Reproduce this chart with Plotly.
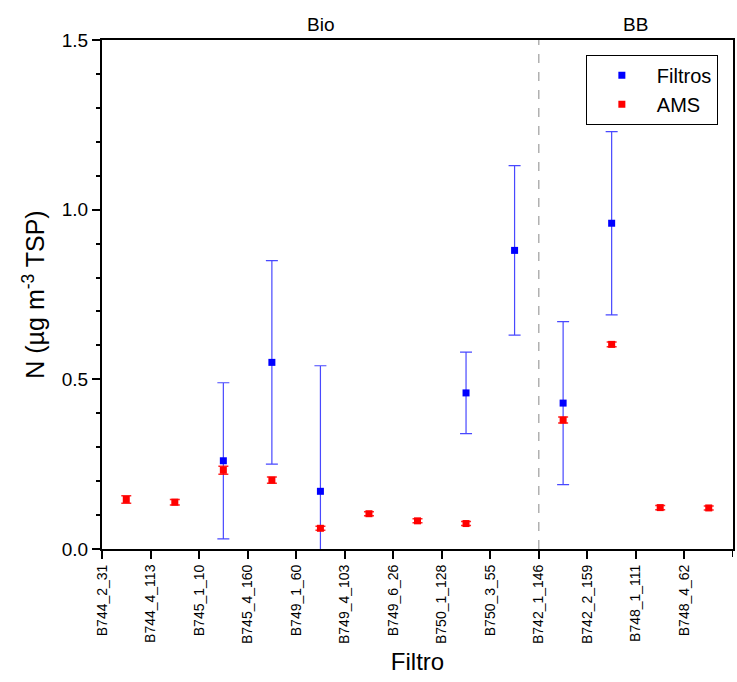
import plotly.graph_objects as go

labels = ["B744_2_31", "B744_4_113", "B745_1_10", "B745_4_160", "B749_1_60",
          "B749_4_103", "B749_6_26", "B750_1_128", "B750_3_55", "B742_1_146",
          "B742_2_159", "B748_1_111", "B748_4_62"]

filtros_x = [2.5, 3.5, 4.5, 7.5, 8.5, 9.5, 10.5]
filtros_y = [0.26, 0.55, 0.17, 0.46, 0.88, 0.43, 0.96]
filtros_err = [0.23, 0.30, 0.37, 0.12, 0.25, 0.24, 0.27]

ams_x = [0.5, 1.5, 2.5, 3.5, 4.5, 5.5, 6.5, 7.5, 9.5, 10.5, 11.5, 12.5]
ams_y = [0.146, 0.138, 0.232, 0.203, 0.061, 0.104, 0.083, 0.075, 0.380, 0.603, 0.122, 0.121]
ams_err = [0.011, 0.008, 0.012, 0.009, 0.006, 0.006, 0.006, 0.006, 0.009, 0.007, 0.006, 0.006]

FONT = "Arial, Liberation Sans, sans-serif"

fig = go.Figure()
fig.add_trace(go.Scatter(
    x=filtros_x, y=filtros_y, mode="markers", name="Filtros",
    marker=dict(symbol="square", size=7, color="#0000ff"),
    error_y=dict(type="data", array=filtros_err, visible=True,
                 color="rgba(40,40,255,0.85)", thickness=1.2, width=6),
))
fig.add_trace(go.Scatter(
    x=ams_x, y=ams_y, mode="markers", name="AMS",
    marker=dict(symbol="square", size=7, color="#ff0000"),
    error_y=dict(type="data", array=ams_err, visible=True,
                 color="rgba(255,0,0,0.85)", thickness=1.5, width=5),
))

fig.add_shape(type="line", x0=9, x1=9, y0=0, y1=1, xref="x", yref="paper",
              line=dict(color="#888888", width=1, dash="dash"))
# right-edge tick mark of the x axis
fig.add_shape(type="line", x0=13, x1=13, xref="x", yref="paper",
              ysizemode="pixel", yanchor=0, y0=0, y1=-8,
              line=dict(color="black", width=2))

fig.add_annotation(x=4.5, y=1.0, xref="x", yref="paper", yshift=3,
                   text="Bio", showarrow=False, yanchor="bottom",
                   font=dict(family=FONT, size=19, color="black"))
fig.add_annotation(x=11, y=1.0, xref="x", yref="paper", yshift=3,
                   text="BB", showarrow=False, yanchor="bottom",
                   font=dict(family=FONT, size=19, color="black"))

fig.update_layout(
    width=737, height=682,
    margin=dict(l=102, r=2, t=40, b=133),
    paper_bgcolor="white", plot_bgcolor="white",
    font=dict(family=FONT, color="black"),
    showlegend=True,
    legend=dict(x=0.976, y=0.971, xanchor="right", yanchor="top",
                bordercolor="black", borderwidth=1, bgcolor="white",
                font=dict(family=FONT, size=20), itemwidth=60,
                tracegroupgap=0),
    xaxis=dict(
        range=[0, 13], tickmode="array",
        tickvals=list(range(13)), ticktext=labels,
        tickangle=-90, tickfont=dict(family=FONT, size=14),
        ticks="outside", ticklen=8, tickwidth=2, tickcolor="black",
        showline=True, linecolor="black", linewidth=2, mirror=True,
        showgrid=False, zeroline=False,
        title=dict(text="Filtro", font=dict(family=FONT, size=24), standoff=10),
    ),
    yaxis=dict(
        range=[0, 1.5], tickmode="array", tickvals=[0, 0.5, 1.0, 1.5],
        ticktext=["0.0", "0.5", "1.0", "1.5"],
        tickfont=dict(family=FONT, size=19),
        ticks="outside", ticklen=8, tickwidth=2, tickcolor="black",
        minor=dict(tickmode="array",
                   tickvals=[0.1, 0.2, 0.3, 0.4, 0.6, 0.7, 0.8, 0.9, 1.1, 1.2, 1.3, 1.4],
                   ticks="outside", ticklen=4, tickwidth=1.5, tickcolor="black",
                   showgrid=False),
        showline=True, linecolor="black", linewidth=2, mirror=True,
        showgrid=False, zeroline=False,
        title=dict(text="N (µg m<sup>-3</sup> TSP)", font=dict(family=FONT, size=25), standoff=10),
    ),
)

fig.write_html("out.html")
